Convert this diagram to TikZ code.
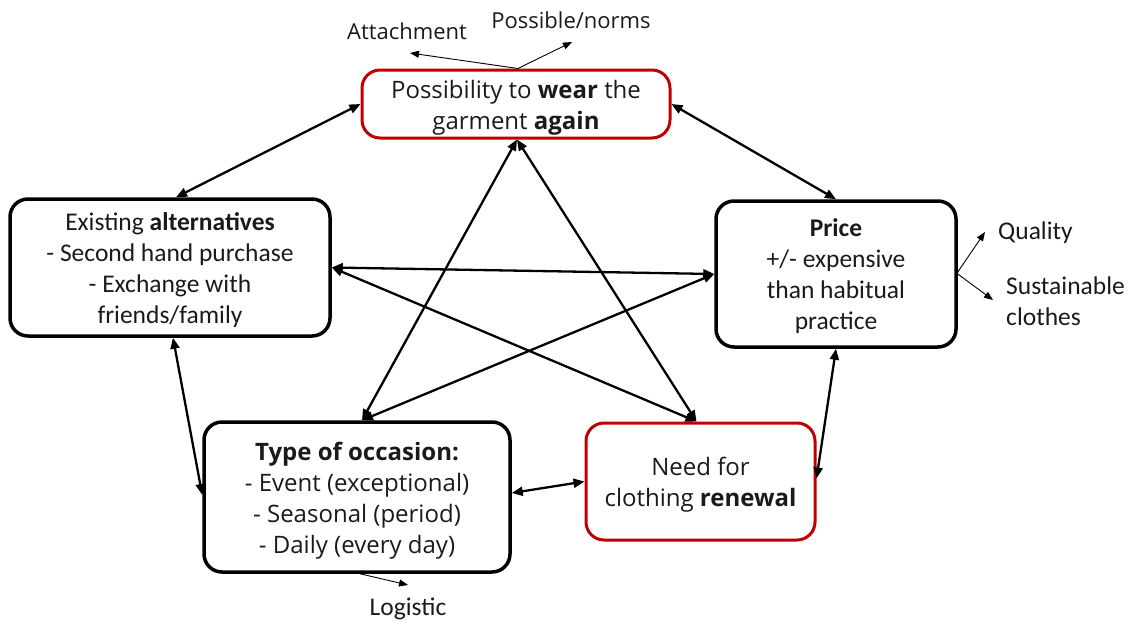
\documentclass[tikz,border=0pt]{standalone}
\usepackage{fontspec}
\setmainfont{Open Sans}
\newfontfamily\calfont{Carlito}
\usetikzlibrary{arrows.meta,calc}
\definecolor{boxred}{HTML}{C00000}
\definecolor{ink}{HTML}{1A1A1A}
\begin{document}
\begin{tikzpicture}[x=1pt,y=-1pt,
 box/.style={draw=black,line width=3.5pt,rounded corners=18pt,inner sep=0pt},
 redbox/.style={box,draw=boxred,line width=3pt},
 txt/.style={font=\fontsize{24}{31}\selectfont,align=center,text=ink,inner sep=0pt,yshift=-3pt},
 ctxt/.style={font=\calfont\fontsize{25.5}{31}\selectfont,align=center,text=ink,inner sep=0pt,yshift=-3pt},
 stxt/.style={font=\fontsize{22}{26}\selectfont,inner sep=0pt,text=ink},
 sctxt/.style={font=\calfont\fontsize{25.5}{31}\selectfont,inner sep=0pt,align=left,text=ink},
 link/.style={line width=2.3pt,{Triangle[length=11pt,width=9pt]}-{Triangle[length=11pt,width=9pt]}},
 smallarrow/.style={line width=0.9pt,-{Triangle[length=9pt,width=7pt]}}]
\useasboundingbox (0,0) rectangle (1131,621);

\node[redbox,minimum width=308pt,minimum height=68pt] (poss) at (516,104) {};
\node[txt,yshift=-1pt] (possT) at (poss.center)
  {Possibility to \textbf{wear} the\\garment \textbf{again}};
\node[box,minimum width=320pt,minimum height=137pt] (alt) at (170,267.5) {};
\node[ctxt] (altT) at (alt.center)
  {Existing \textbf{alternatives}\\- Second hand purchase\\- Exchange with\\friends/family};
\node[box,minimum width=240pt,minimum height=146pt] (price) at (836,274) {};
\node[ctxt,yshift=1pt] (priceT) at (price.center)
  {\textbf{Price}\\+/- expensive\\than habitual\\practice};
\node[box,minimum width=306pt,minimum height=150pt] (type) at (357,497) {};
\node[txt,yshift=-1pt] (typeT) at (type.center)
  {\textbf{Type of occasion:}\\- Event (exceptional)\\- Seasonal (period)\\- Daily (every day)};
\node[redbox,minimum width=229pt,minimum height=117pt] (need) at (700.5,481.5) {};
\node[txt] (needT) at (need.center)
  {Need for\\clothing \textbf{renewal}};

% side labels
\node[stxt] (att) at (407,31) {Attachment};
\node[stxt] (norms) at (571,20) {Possible/norms};
\node[sctxt,anchor=west] (qual) at (998,233) {Quality};
\node[sctxt,anchor=west] (sust) at (1006,301) {Sustainable\\clothes};
\node[sctxt] (logi) at (408,609) {Logistic};

\coordinate (attTip) at (410,53);
\coordinate (normsTip) at (572,42);
\coordinate (qualTip) at (985,232);
\coordinate (sustTip) at (993,300);
\coordinate (logiTip) at (408,585);

\draw[smallarrow] ([xshift=2pt]poss.north) -- (attTip);
\draw[smallarrow] ([xshift=2pt]poss.north) -- (normsTip);
\draw[smallarrow] ([yshift=2pt]price.east) -- (qualTip);
\draw[smallarrow] (price.east) -- (sustTip);
\draw[smallarrow] ([xshift=3pt]type.south) -- (logiTip);

% main links
\draw[link] (poss.west) -- ([xshift=6pt]alt.north);
\draw[link] (poss.east) -- (price.north);
\draw[link] ([xshift=3pt]alt.south) -- ([yshift=2pt]type.west);
\draw[link] (price.south) -- ([yshift=3pt]need.east);
\draw[link] ([yshift=4pt]type.east) -- (need.west);
\draw[link] (alt.east) -- (price.west);
\draw[link] (alt.east) -- ([xshift=-4pt]need.north);
\draw[link] (price.west) -- ([xshift=5pt]type.north);
\draw[link] ([xshift=1pt]poss.south) -- ([xshift=5pt]type.north);
\draw[link] ([xshift=1pt]poss.south) -- ([xshift=-4pt]need.north);
\end{tikzpicture}
\end{document}
